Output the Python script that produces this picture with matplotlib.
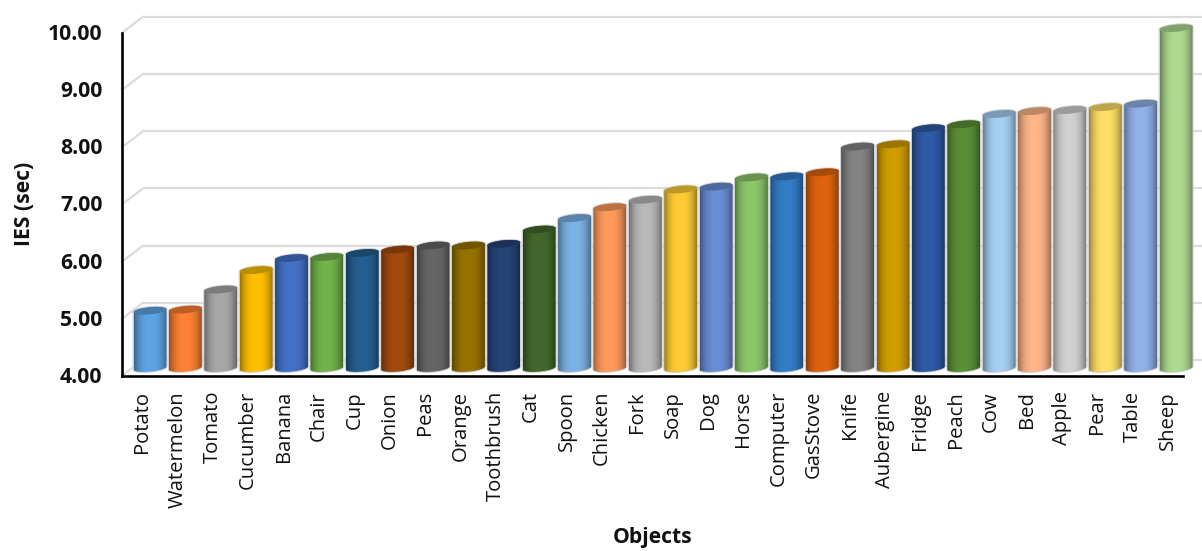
import numpy as np
import matplotlib
matplotlib.use("Agg")
import matplotlib.pyplot as plt
from matplotlib.colors import to_rgb
from matplotlib.path import Path
from matplotlib.patches import PathPatch
from matplotlib.transforms import ScaledTranslation

plt.rcParams["font.family"] = ["Open Sans", "DejaVu Sans"]

objects = ["Potato", "Watermelon", "Tomato", "Cucumber", "Banana", "Chair", "Cup", "Onion",
           "Peas", "Orange", "Toothbrush", "Cat", "Spoon", "Chicken", "Fork", "Soap", "Dog",
           "Horse", "Computer", "GasStove", "Knife", "Aubergine", "Fridge", "Peach", "Cow",
           "Bed", "Apple", "Pear", "Table", "Sheep"]
ies = [5.00, 5.02, 5.37, 5.71, 5.92, 5.94, 6.01, 6.07, 6.14, 6.14, 6.17, 6.42, 6.62, 6.81,
       6.94, 7.12, 7.17, 7.33, 7.35, 7.42, 7.87, 7.91, 8.19, 8.26, 8.44, 8.49, 8.51, 8.56,
       8.62, 9.94]
colors = ["#5fa5e6", "#ff8032", "#a8a8a8", "#ffc000", "#4472c9", "#72b34a", "#255e91", "#a34a0e",
          "#666666", "#997300", "#264478", "#43682b", "#7cb3e6", "#ff9a5c", "#b9b9b9", "#ffcd33",
          "#698ed6", "#8cc86a", "#327dc8", "#e0640f", "#848484", "#d29e00", "#2f5aa8", "#5a8f36",
          "#a6d0f5", "#ffb688", "#d2d2d2", "#ffdf66", "#92b2ea", "#aedb90"]
y_ticks = [4, 5, 6, 7, 8, 9, 10]

W, H = 1202, 551
PX_X = 35.38   # pixels per category
PX_Y = 57.2    # pixels per second
LEFT, BASE = 122, 368

fig = plt.figure(figsize=(W / 100, H / 100), dpi=100)
ax = fig.add_axes([LEFT / W, (H - BASE) / H, (W - LEFT) / W, (BASE - 14) / H])
x_min = (LEFT - 150) / PX_X
x_max = (W - 150) / PX_X
y_max = 4 + (BASE - 14) / PX_Y
for s in ax.spines.values():
    s.set_visible(False)

# depth of the 3D box, in data units
dx = 21 / PX_X / 2
dy = 8 / PX_Y
wall_l = x_min + 2 * dx

# back wall and left wall gridlines
for v in y_ticks:
    ax.plot([wall_l, x_max], [v + dy, v + dy], color="#dcdcdc", lw=1.6, zorder=1, solid_capstyle="butt")
    ax.plot([x_min, wall_l], [v - dy, v + dy], color="#dcdcdc", lw=1.6, zorder=1, clip_on=False)

rx = 0.465
ry = 3.6 / PX_Y
tilt = 1.5 / PX_Y
t = np.linspace(0, 2 * np.pi, 81)


def ring(cx, cy, ts):
    return np.column_stack([cx + rx * np.cos(ts), cy + ry * np.sin(ts) + tilt * np.cos(ts)])


# shaded cylinders: gradient across the body, darker cap on top
shade = 1 - 0.40 * np.abs(np.linspace(-1, 1, 120)) ** 2.6
for i, (val, col) in enumerate(zip(ies, colors)):
    rgb = np.array(to_rgb(col))
    upper = ring(i, val, np.linspace(0, np.pi, 40))
    lower = ring(i, 4, np.linspace(np.pi, 2 * np.pi, 40))
    outline = np.vstack([lower, upper, lower[:1]])

    ax.add_patch(PathPatch(Path(outline), facecolor="none", edgecolor="#c4c4c4",
                           lw=1.5, alpha=0.8, zorder=2, clip_on=False))
    img = ax.imshow(np.outer(shade, rgb).reshape(1, -1, 3), extent=[i - rx, i + rx, 3.8, val + 0.2],
                    aspect="auto", interpolation="bilinear", zorder=3)
    body = PathPatch(Path(outline), facecolor="none", edgecolor="none", transform=ax.transData)
    ax.add_patch(body)
    body.set_clip_on(False)
    img.set_clip_box(fig.bbox)
    img.set_clip_path(body)
    ax.fill(*ring(i, val, t).T, color=rgb * 0.74, lw=0, zorder=4)

# front axis lines
ax.plot([x_min, x_min], [4 - dy, 10 - dy], color="black", lw=1.9, zorder=5, clip_on=False)
ax.plot([x_min, 29.2], [4 - dy, 4 - dy], color="black", lw=1.9, zorder=5, clip_on=False)

ax.set_xlim(x_min, x_max)
ax.set_ylim(4, y_max)
ax.set_xticks(range(len(objects)), objects, rotation=90, fontsize=14.6, color="#111111")
ax.set_yticks(y_ticks, [f"{v:.2f}" for v in y_ticks], fontsize=15.2, fontweight="bold", color="#111111")
ax.tick_params(axis="both", length=0)
ax.tick_params(axis="x", pad=16.5)
ax.tick_params(axis="y", pad=14)

# tick labels sit on the front of the box, not the bar plane
x_shift = ScaledTranslation(-8 / 100, 0, fig.dpi_scale_trans)
y_shift = ScaledTranslation(0, -7 / 100, fig.dpi_scale_trans)
for lab in ax.get_xticklabels():
    lab.set_transform(lab.get_transform() + x_shift)
for lab in ax.get_yticklabels():
    lab.set_transform(lab.get_transform() + y_shift)

fig.text(24 / W, 1 - 204 / H, "IES (sec)", rotation=90, ha="center", va="center",
         fontsize=15.2, fontweight="bold", color="#111111")
fig.text(653 / W, 1 - 538 / H, "Objects", ha="center", va="center",
         fontsize=15.2, fontweight="bold", color="#111111")

fig.savefig("out.png", dpi=100)
